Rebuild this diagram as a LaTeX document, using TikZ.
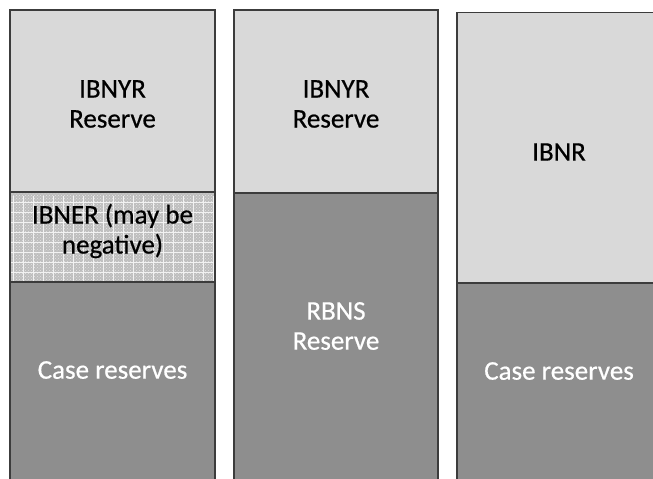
\documentclass[tikz,border=0pt]{standalone}
\usepackage{fontspec}
\setmainfont{Carlito}
\newfontfamily\lblfont[FakeBold=0.6]{Carlito}
\usetikzlibrary{patterns}
\definecolor{lightblk}{HTML}{D9D9D9}
\definecolor{darkblk}{HTML}{8E8E8E}
\definecolor{edge}{HTML}{3C3C3C}
\definecolor{hatchbg}{HTML}{BEBEBE}
\tikzset{
  blk/.style={draw=edge, line width=1.1pt},
  lbl/.style={align=center, font=\lblfont\fontsize{27}{30}\selectfont, inner sep=0pt},
  dlbl/.style={lbl, text=white},
}
\begin{document}
\begin{tikzpicture}[x=1pt,y=-1pt]
\useasboundingbox (0,0) rectangle (653,479);
\clip (0,0) rectangle (653,479);
% column 1
\draw[blk, fill=lightblk] (10,10) rectangle (215,192);
\fill[hatchbg] (10,192) rectangle (215,282);
\fill[pattern=crosshatch dots, pattern color=white!80!gray] (10,192) rectangle (215,282);
\draw[white!90!gray, line width=0.4pt, step=10pt, xshift=3pt, yshift=-2pt] (7,194) grid (212,280);
\draw[blk] (10,192) rectangle (215,282);
\draw[blk, fill=darkblk] (10,282) rectangle (215,490);
\node[lbl] (a1) at (112.5,104) {IBNYR\\Reserve};
\node[lbl] (a2) at (112.5,231) {IBNER (may be\\negative)};
\node[dlbl] (a3) at (112.5,370) {Case reserves};
% column 2
\draw[blk, fill=lightblk] (234,10) rectangle (438,193);
\draw[blk, fill=darkblk] (234,193) rectangle (438,490);
\node[lbl] (b1) at (336,104) {IBNYR\\Reserve};
\node[dlbl] (b2) at (336,326) {RBNS\\Reserve};
% column 3
\draw[blk, fill=lightblk] (457,12.5) rectangle (662,283);
\draw[blk, fill=darkblk] (457,283) rectangle (662,490);
\node[lbl] (c1) at (559,152) {IBNR};
\node[dlbl] (c2) at (559,371) {Case reserves};
\end{tikzpicture}
\end{document}
